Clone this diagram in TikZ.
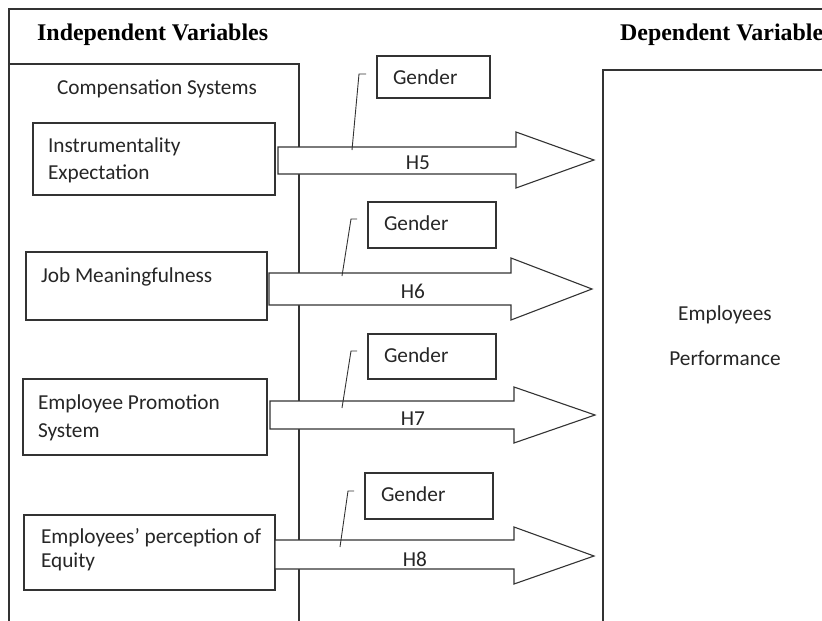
\documentclass[tikz,border=0pt]{standalone}
\usepackage{fontspec}
\setmainfont{Carlito}
\newfontfamily\titlefont{Liberation Serif}
\begin{document}
\begin{tikzpicture}[x=1pt,y=-1pt,
  ln/.style={draw=black!80, line width=1.1pt},
  thin ln/.style={draw=black!80, line width=0.9pt},
  vbox/.style={ln, fill=white, inner sep=0pt, outer sep=0pt, anchor=north west},
  harrow/.style={ln, fill=white, line join=miter},
  txt/.style={font=\fontsize{21.3}{27}\selectfont, text=black!85, inner sep=0pt, outer sep=0pt},
  ttl/.style={font=\titlefont\bfseries\fontsize{23.9}{28}\selectfont, text=black, inner sep=0pt, anchor=base west},
]
\useasboundingbox (0,0) rectangle (822,621);
\clip (0,0) rectangle (822,621);
\fill[white] (0,0) rectangle (822,621);

% frame and group boxes
\coordinate (frBL) at (9,625);
\coordinate (frTL) at (9,9);
\coordinate (frTR) at (830,9);
\draw[ln] (frBL) -- (frTL) -- (frTR);
\coordinate (csTL) at (9,64);
\coordinate (csTR) at (299,64);
\coordinate (csBR) at (299,625);
\draw[ln] (csTL) -- (csTR) -- (csBR);
\coordinate (dvBL) at (603,625);
\coordinate (dvTL) at (603,70);
\coordinate (dvTR) at (830,70);
\draw[ln] (dvBL) -- (dvTL) -- (dvTR);

% titles
\node[ttl] (tind) at (37,40) {Independent Variables};
\node[ttl] (tdep) at (620,40) {Dependent Variable};
\node[txt, anchor=base] (tcs) at (157,94) {Compensation Systems};
\node[txt, anchor=base] (tep1) at (725,320) {Employees};
\node[txt, anchor=base] (tep2) at (725,365) {Performance};

% independent variable boxes
\node[vbox, minimum width=242, minimum height=72] (iv1) at (33,123) {};
\node[vbox, minimum width=241, minimum height=68] (iv2) at (26,252) {};
\node[vbox, minimum width=244, minimum height=76] (iv3) at (23,379) {};
\node[vbox, minimum width=251, minimum height=75] (iv4) at (24,515) {};
% (multi-line nodes: base anchor = baseline of last line)
\node[txt, anchor=base west, align=left] (tiv1) at (48,179) {Instrumentality\\Expectation};
\node[txt, anchor=base west] (tiv2) at (41,282) {Job Meaningfulness};
\node[txt, anchor=base west, align=left, font=\fontsize{21.3}{28}\selectfont] (tiv3) at (38,437) {Employee Promotion\\System};
\node[txt, anchor=base west, align=left, font=\fontsize{21.3}{24}\selectfont] (tiv4) at (41,567) {Employees’ perception of\\Equity};

% block arrows
\draw[harrow] (278,147) -- (516,147) -- (516,132) -- (594,160) coordinate (a5) -- (516,188) -- (516,174) -- (278,174) -- cycle;
\draw[harrow] (269,273) -- (511,273) -- (511,258) -- (592,289) coordinate (a6) -- (511,320) -- (511,305) -- (269,305) -- cycle;
\draw[harrow] (270,401) -- (514,401) -- (514,387) -- (595,415) coordinate (a7) -- (514,443) -- (514,429) -- (270,429) -- cycle;
\draw[harrow] (275,540) -- (514,540) -- (514,527) -- (594,556) coordinate (a8) -- (514,584) -- (514,569) -- (275,569) -- cycle;
\node[txt, anchor=base] (h5) at (418,169) {H5};
\node[txt, anchor=base] (h6) at (413,298) {H6};
\node[txt, anchor=base] (h7) at (413,425) {H7};
\node[txt, anchor=base] (h8) at (415,566) {H8};

% gender leaders
\coordinate (l5a) at (366,74); \coordinate (l5b) at (359,74); \coordinate (l5c) at (352,150);
\coordinate (l6a) at (357,219); \coordinate (l6b) at (351,219); \coordinate (l6c) at (342,276);
\coordinate (l7a) at (357,351); \coordinate (l7b) at (351,351); \coordinate (l7c) at (342,408);
\coordinate (l8a) at (354,491); \coordinate (l8b) at (348,491); \coordinate (l8c) at (340,547);
\draw[thin ln] (l5a) -- (l5b) -- (l5c);
\draw[thin ln] (l6a) -- (l6b) -- (l6c);
\draw[thin ln] (l7a) -- (l7b) -- (l7c);
\draw[thin ln] (l8a) -- (l8b) -- (l8c);

% gender boxes
\node[vbox, minimum width=113, minimum height=42] (g5) at (377,56) {};
\node[vbox, minimum width=128, minimum height=46] (g6) at (368,202) {};
\node[vbox, minimum width=128, minimum height=45] (g7) at (368,334) {};
\node[vbox, minimum width=128, minimum height=46] (g8) at (365,473) {};
\node[txt, anchor=base west] (tg5) at (393,84) {Gender};
\node[txt, anchor=base west] (tg6) at (384,230) {Gender};
\node[txt, anchor=base west] (tg7) at (384,362) {Gender};
\node[txt, anchor=base west] (tg8) at (381,501) {Gender};
\end{tikzpicture}
\end{document}
